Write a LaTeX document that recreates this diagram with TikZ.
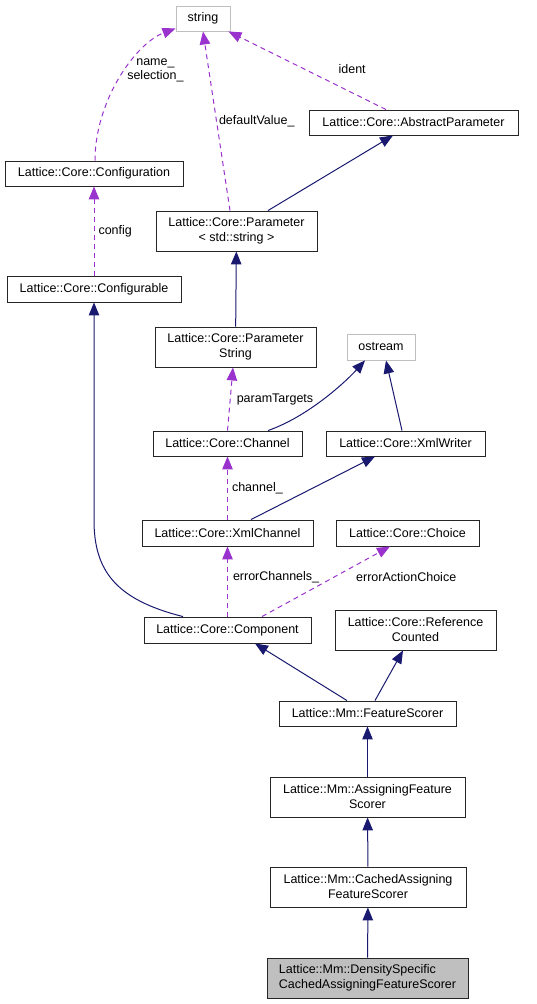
\documentclass[tikz,border=0pt]{standalone}
\usepackage{fontspec}
\setmainfont{Liberation Sans}
\usetikzlibrary{arrows.meta, positioning}
\definecolor{edgenavy}{HTML}{191970}
\definecolor{edgepurple}{HTML}{9A32CD}
\definecolor{boxgray}{HTML}{BFBFBF}
\tikzset{
	classbox/.style={rectangle, draw=black!85, line width=0.9pt, fill=white, align=center, inner sep=1pt, font=\fontsize{12.5}{15}\selectfont},
	extbox/.style={classbox, draw=boxgray},
	curbox/.style={classbox, fill=boxgray, align=left},
	inherit/.style={draw=edgenavy, line width=1pt, -{Triangle[length=13pt, width=10.5pt]}},
	member/.style={draw=edgepurple, line width=1pt, dash pattern=on 5pt off 4pt, -{Triangle[length=13pt, width=10.5pt]}},
	edgelabel/.style={font=\fontsize{12.5}{14}\selectfont, inner sep=0pt, align=center, text=black}
}
\begin{document}
\begin{tikzpicture}[x=1pt, y=-1pt]
		\useasboundingbox (0,0) rectangle (537,1004);
		% Klassen
		\node (string) [extbox, minimum width=54pt, minimum height=25pt] at (203,18.5) {string};
		\node (absparam) [classbox, minimum width=209pt, minimum height=25pt] at (413.5,122.5) {Lattice::Core::AbstractParameter};
		\node (configuration) [classbox, minimum width=178pt, minimum height=25pt] at (94,173.5) {Lattice::Core::Configuration};
		\node (param) [classbox, minimum width=161pt, minimum height=40pt] at (236.5,231) {Lattice::Core::Parameter\\< std::string >};
		\node (configurable) [classbox, minimum width=174pt, minimum height=26pt] at (94,289) {Lattice::Core::Configurable};
		\node (paramstring) [classbox, minimum width=161pt, minimum height=40pt] at (235.5,347) {Lattice::Core::Parameter\\String};
		\node (ostream) [extbox, minimum width=68pt, minimum height=26pt] at (381,347) {ostream};
		\node (channel) [classbox, minimum width=149pt, minimum height=25pt] at (227.5,443.5) {Lattice::Core::Channel};
		\node (xmlwriter) [classbox, minimum width=159pt, minimum height=25pt] at (405.5,443.5) {Lattice::Core::XmlWriter};
		\node (xmlchannel) [classbox, minimum width=171pt, minimum height=26pt] at (227.5,533) {Lattice::Core::XmlChannel};
		\node (choice) [classbox, minimum width=143pt, minimum height=26pt] at (407.5,533) {Lattice::Core::Choice};
		\node (component) [classbox, minimum width=167pt, minimum height=26pt] at (227.5,630) {Lattice::Core::Component};
		\node (refcounted) [classbox, minimum width=161pt, minimum height=40pt] at (415.5,630) {Lattice::Core::Reference\\Counted};
		\node (featscorer) [classbox, minimum width=177pt, minimum height=25pt] at (367.5,713.5) {Lattice::Mm::FeatureScorer};
		\node (assigning) [classbox, minimum width=195pt, minimum height=40pt] at (367.5,797) {Lattice::Mm::AssigningFeature\\Scorer};
		\node (cached) [classbox, minimum width=196pt, minimum height=40pt] at (368,887) {Lattice::Mm::CachedAssigning\\FeatureScorer};
		\node (density) [curbox, minimum width=201pt, minimum height=40pt] at (367.5,978) {Lattice::Mm::DensitySpecific\\CachedAssigningFeatureScorer};
		
		% Member-Beziehungen (gestrichelt)
		\draw [member] ([xshift=1pt]configuration.north) .. controls +(0,-60) and +(-40,15) .. ([yshift=3pt]string.south west) node [edgelabel, pos=0.5, anchor=west, xshift=6.5pt, yshift=7.6pt] {name\_\\selection\_};
		\draw [member] ([xshift=-6.5pt]param.north) -- (string.south) node [edgelabel, pos=0.5, anchor=west, xshift=2pt] {defaultValue\_};
		\draw [member] ([xshift=-27.5pt]absparam.north) -- ([xshift=-2pt]string.south east) node [edgelabel, pos=0.52, anchor=west, xshift=34pt] {ident};
		\draw [member] (configurable) -- (configuration) node [edgelabel, pos=0.5, anchor=west, xshift=4pt] {config};
		\draw [member] (channel.north) -- ([xshift=-2.5pt]paramstring.south) node [edgelabel, pos=0.5, anchor=west, xshift=6pt] {paramTargets};
		\draw [member] (xmlchannel) -- (channel) node [edgelabel, pos=0.5, anchor=west, xshift=4pt] {channel\_};
		\draw [member] (component) -- (xmlchannel) node [edgelabel, pos=0.56, anchor=west, xshift=5pt] {errorChannels\_};
		\draw [member] ([xshift=34.5pt]component.north) -- ([xshift=-17.5pt]choice.south) node [edgelabel, pos=0.56, anchor=west, xshift=22pt] {errorActionChoice};
		
		% Vererbung
		\draw [inherit] ([xshift=31.5pt]param.north) -- ([xshift=-20.5pt]absparam.south);
		\draw [inherit] (paramstring) -- (param);
		\draw [inherit] ([xshift=40.5pt]channel.north) .. controls +(40,-14) and +(-20,22) .. ([xshift=-16pt]ostream.south);
		\draw [inherit] ([xshift=-3.5pt]xmlwriter.north) -- ([xshift=5pt]ostream.south);
		\draw [inherit] ([xshift=23.5pt]xmlchannel.north) -- ([xshift=-30.5pt]xmlwriter.south);
		\draw [inherit] ([xshift=-44.5pt]component.north) .. controls +(-68,-17) and +(0,50) .. (configurable.south |- 0,520) -- (configurable.south);
		\draw [inherit] ([xshift=-20.5pt]featscorer.north) -- ([xshift=27.5pt]component.south);
		\draw [inherit] ([xshift=7.5pt]featscorer.north) -- ([xshift=-12.5pt]refcounted.south);
		\draw [inherit] (assigning) -- (featscorer);
		\draw [inherit] (cached) -- (assigning);
		\draw [inherit] (density) -- (cached);
	\end{tikzpicture}
\end{document}
